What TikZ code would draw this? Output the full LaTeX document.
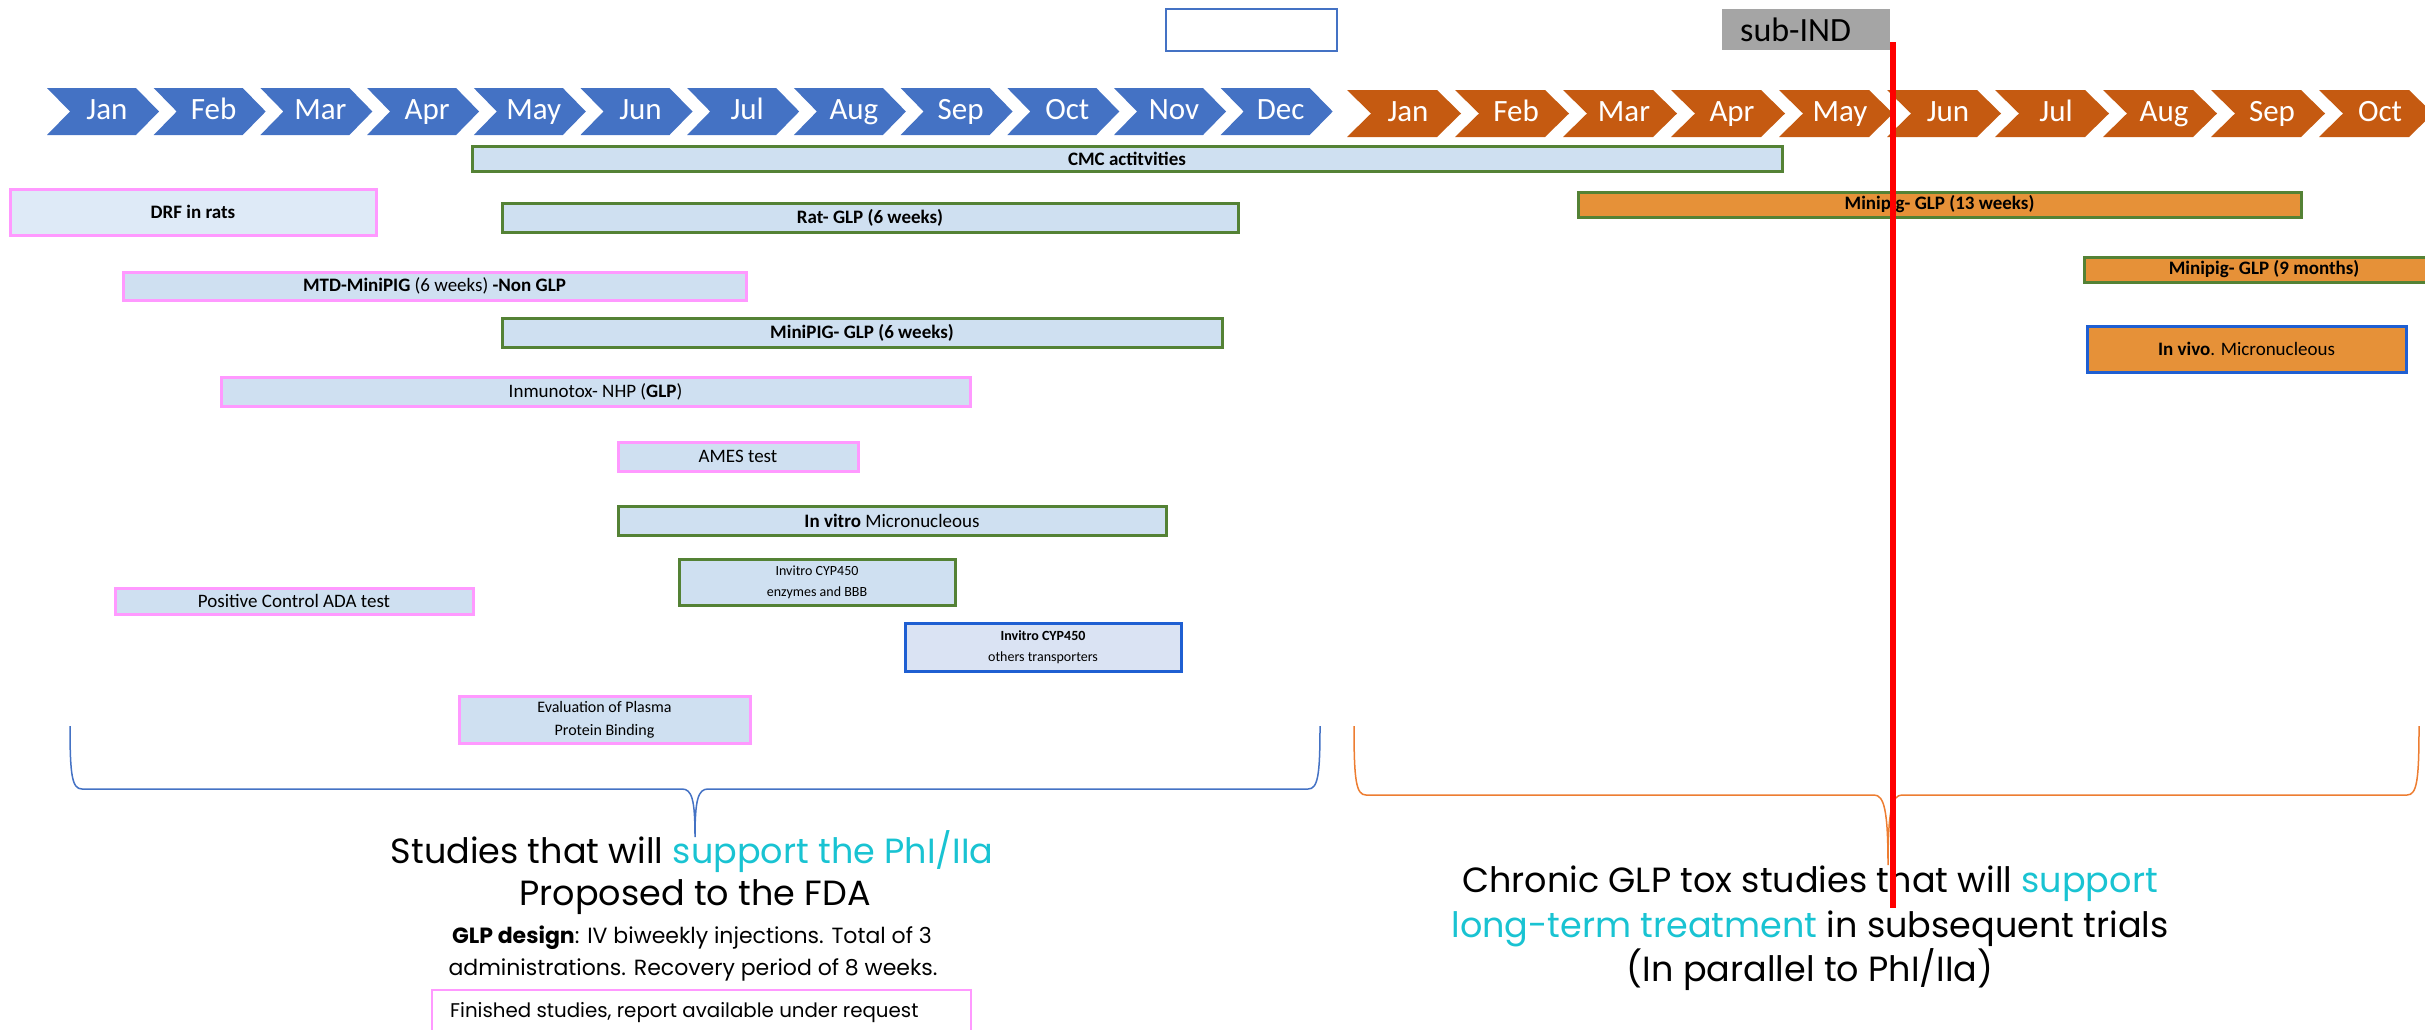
\documentclass[tikz,border=0pt]{standalone}
\usepackage{fontspec}
\setmainfont{Carlito}
\newfontfamily\calibri{Carlito}
\newfontfamily\pop{Poppins}
\definecolor{bluechev}{RGB}{68,114,196}
\definecolor{orangechev}{RGB}{197,90,17}
\definecolor{barfill}{RGB}{207,224,241}
\definecolor{drffill}{RGB}{222,234,247}
\definecolor{greenb}{RGB}{84,130,53}
\definecolor{pinkb}{RGB}{255,153,255}
\definecolor{blueb}{RGB}{31,95,210}
\definecolor{cypfill}{RGB}{218,227,243}
\definecolor{orangebar}{RGB}{230,145,56}
\definecolor{subgray}{RGB}{165,165,165}
\definecolor{cyantxt}{RGB}{25,195,210}
\definecolor{braceblue}{RGB}{68,114,196}
\definecolor{braceorange}{RGB}{237,125,49}
\tikzset{
  monthlbl/.style={text=white, font=\calibri\fontsize{31}{31}\selectfont, anchor=base, inner sep=0},
  barbox/.style={anchor=north west, inner sep=0, outer sep=0, align=center, font=\calibri\fontsize{19}{22}\selectfont},
  greenbar/.style={barbox, draw=greenb, line width=3pt, fill=barfill},
  pinkbar/.style={barbox, draw=pinkb, line width=3pt, fill=barfill},
  bluebar/.style={barbox, draw=blueb, line width=3pt, fill=cypfill},
  orangebar/.style={barbox, draw=greenb, line width=3pt, fill=orangebar},
  bottomtxt/.style={anchor=base, inner sep=0, font=\pop\fontsize{35}{42}\selectfont},
  smalltxt/.style={anchor=base, inner sep=0, font=\pop\fontsize{22}{32}\selectfont},
}
\newcommand\barnode[7]{% style, name, x1, y1, x2, y2, text
  \pgfmathsetmacro\bw{#5-#3}\pgfmathsetmacro\bh{#6-#4}%
  \node[#1, minimum width=\bw pt, minimum height=\bh pt] (#2) at (#3,#4) {#7};}
\begin{document}
\begin{tikzpicture}[x=1pt,y=-1pt]
\useasboundingbox (0,0) rectangle (2425,1029);
\clip (0,0) rectangle (2425,1029);
% top boxes
\node[draw=bluechev, line width=2pt, fill=white, anchor=north west, minimum width=171pt, minimum height=42pt, inner sep=0] (topbox) at (1165,8) {};
\node[fill=subgray, anchor=north west, minimum width=168pt, minimum height=41pt, inner sep=0] (subind) at (1722,9) {};
\node[anchor=base west, inner sep=0, font=\calibri\fontsize{34}{34}\selectfont] (subindtxt) at (1740,41) {sub-IND};
% blue chevrons
\foreach \m [count=\i from 0] in {Jan,Feb,Mar,Apr,May,Jun,Jul,Aug,Sep,Oct,Nov,Dec} {
  \pgfmathsetmacro\xa{47+106.7*\i}
  \fill[bluechev] (\xa,88) -- ++(89,0) -- ++(23,23.5) -- ++(-23,23.5) -- ++(-89,0) -- ++(23,-23.5) -- cycle;
  \node[monthlbl] (b\i) at (\xa+60,119.5) {\m};
}
% orange chevrons
\foreach \m [count=\i from 0] in {Jan,Feb,Mar,Apr,May,Jun,Jul,Aug,Sep,Oct} {
  \pgfmathsetmacro\xa{1347+108*\i}
  \fill[orangechev] (\xa,90) -- ++(90,0) -- ++(24,23.5) -- ++(-24,23.5) -- ++(-90,0) -- ++(24,-23.5) -- cycle;
  \node[monthlbl] (o\i) at (\xa+61,121) {\m};
}
% bars
\barnode{greenbar}{cmc}{472}{146}{1782}{171}{\bfseries CMC actitvities}
\barnode{pinkbar, fill=drffill}{drf}{10}{189}{376}{235}{\bfseries DRF in rats}
\barnode{greenbar}{rat}{502}{203}{1238}{232}{\bfseries Rat- GLP (6 weeks)}
\barnode{pinkbar}{mtd}{123}{272}{746}{300}{\textbf{MTD-MiniPIG} (6 weeks) \textbf{-Non GLP}}
\barnode{greenbar}{mpglp}{502}{318}{1222}{347}{\bfseries MiniPIG- GLP (6 weeks)}
\barnode{pinkbar}{immuno}{221}{377}{970}{406}{Inmunotox- NHP (\textbf{GLP})}
\barnode{pinkbar}{ames}{618}{442}{858}{471}{AMES test}
\barnode{greenbar}{invitro}{618}{506}{1166}{535}{\textbf{In vitro} Micronucleous}
\barnode{greenbar, font=\calibri\fontsize{14}{21}\selectfont}{cypenz}{679}{559}{955}{605}{Invitro CYP450\\enzymes and BBB}
\barnode{pinkbar}{posctrl}{115}{588}{473}{614}{Positive Control ADA test}
\barnode{bluebar, font=\calibri\fontsize{14}{21}\selectfont}{cypoth}{905}{623}{1181}{671}{\textbf{Invitro CYP450}\\others transporters}
\barnode{pinkbar, font=\calibri\fontsize{16}{23}\selectfont}{ppb}{459}{696}{750}{743}{Evaluation of Plasma\\Protein Binding}
\barnode{orangebar}{mp13}{1578}{192}{2301}{217}{\bfseries Minipig- GLP (13 weeks)}
\barnode{orangebar}{mp9}{2084}{257}{2444}{282}{\bfseries Minipig- GLP (9 months)}
\barnode{orangebar, draw=blueb}{invivo}{2087}{326}{2406}{372}{\textbf{In vivo}. Micronucleous}
\node[draw=pinkb, line width=2pt, fill=white, anchor=north west, minimum width=539pt, minimum height=60pt, inner sep=0] (finished) at (431,989) {};
\node[anchor=base west, inner sep=0, font=\pop\fontsize{19.8}{22}\selectfont] (finishedtxt) at (450,1017) {Finished studies, report available under request};
% braces
\draw[braceblue, line width=1.5pt] (70,726) .. controls (70,775) and (72,789) .. (82,789) -- (682,789) .. controls (692,789) and (695,800) .. (695,837) .. controls (695,800) and (698,789) .. (708,789) -- (1308,789) .. controls (1318,789) and (1320,775) .. (1320,726);
\draw[braceorange, line width=1.5pt] (1354,726) .. controls (1354,780) and (1356,795) .. (1366,795) -- (1874,795) .. controls (1884,795) and (1888,810) .. (1888,865) .. controls (1888,810) and (1892,795) .. (1902,795) -- (2407,795) .. controls (2417,795) and (2419,780) .. (2419,726);
% bottom texts
\node[bottomtxt] (l1) at (692,863) {Studies that will \textcolor{cyantxt}{support the PhI/IIa}};
\node[bottomtxt] (l2) at (695,905) {Proposed to the FDA};
\node[smalltxt] (l3) at (692,943) {\textbf{GLP design}: IV biweekly injections. Total of 3};
\node[smalltxt] (l4) at (693,975) {administrations. Recovery period of 8 weeks.};
\node[bottomtxt] (r1) at (1810,892) {Chronic GLP tox studies that will \textcolor{cyantxt}{support}};
\node[bottomtxt] (r2) at (1810,937) {\textcolor{cyantxt}{long-term treatment} in subsequent trials};
\node[bottomtxt] (r3) at (1810,981) {(In parallel to PhI/IIa)};
% red line
\coordinate (redtop) at (1893,42);
\coordinate (redbot) at (1893,908);
\draw[red, line width=6pt] (redtop) -- (redbot);
\end{tikzpicture}
\end{document}
